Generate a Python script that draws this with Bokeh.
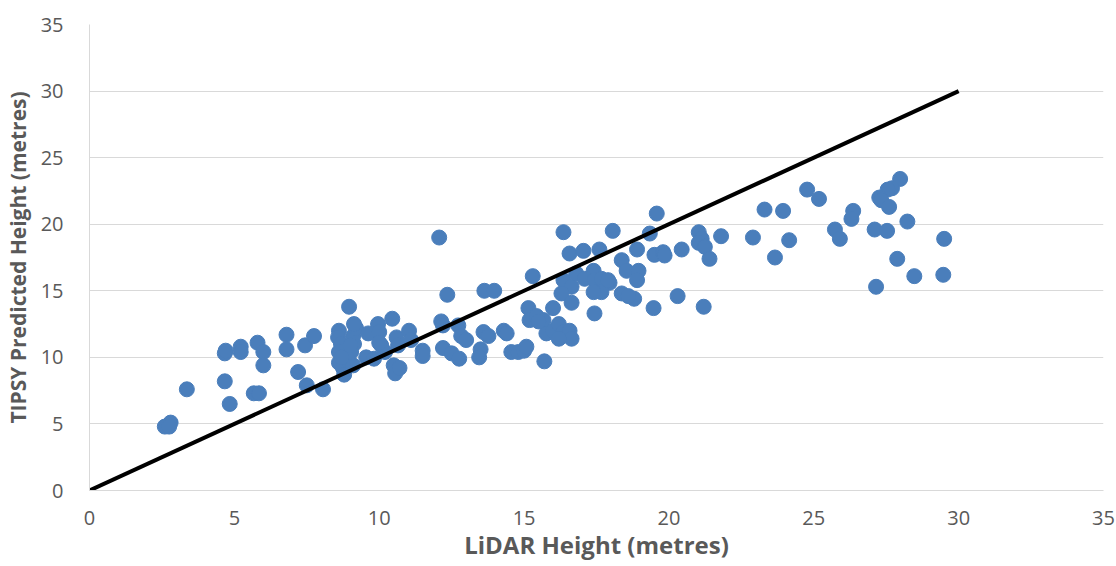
from bokeh.plotting import figure
from bokeh.models import Range1d, FixedTicker
from bokeh.embed import file_html
from bokeh.resources import INLINE

# LiDAR height (x) vs TIPSY predicted height (y), metres
lidar = [2.6, 2.8, 2.75, 3.36, 4.67, 4.7, 5.22, 5.22, 4.67, 4.84, 5.8, 6.0, 6.0, 5.67, 5.85,
         6.8, 6.8, 7.2, 7.5, 7.44, 7.75, 8.06, 8.96,
         8.61, 8.58, 8.68, 8.61, 8.61, 8.75, 8.79, 8.92, 9.1, 9.13, 9.1, 9.2, 9.03, 9.13, 8.7, 9.0,
         9.55, 9.82, 9.62, 9.96, 10.0, 10.07, 10.45, 10.6, 10.65, 10.5, 10.55, 10.7, 11.03, 11.1,
         11.5, 11.5, 10.2, 10.0,
         12.07, 12.35, 13.63, 13.97, 12.14, 12.2, 12.73, 12.83, 13.0, 12.2, 12.5, 12.76,
         13.6, 13.77, 14.3, 14.4, 13.5, 13.45, 14.56, 14.8, 15.0, 15.08,
         15.3, 15.15, 15.19, 15.43, 15.67, 15.77, 16.0, 16.2, 16.36, 16.57, 16.64, 16.2, 15.5,
         15.7, 16.0, 16.36, 16.57, 17.05, 17.6, 18.06,
         16.36, 16.64, 16.29, 16.64, 16.8, 17.09, 17.4, 17.43, 17.67, 17.95, 17.67, 17.4, 17.43,
         18.37, 18.54, 18.95, 17.9, 18.37, 18.8, 18.6, 18.9, 18.9,
         19.58, 19.34, 19.5, 19.8, 19.85, 20.44, 21.03, 21.13, 21.03, 21.24, 21.4, 21.8,
         22.9, 23.3, 23.94, 24.15, 23.66, 24.77, 25.18, 25.73, 25.9, 26.36, 26.3,
         19.47, 20.3, 21.2, 27.98, 27.7, 27.55, 27.26, 27.33, 27.6, 28.23, 27.1, 27.53,
         29.5, 27.88, 28.47, 29.47, 27.15]
tipsy = [4.8, 5.1, 4.8, 7.6, 10.3, 10.5, 10.8, 10.4, 8.2, 6.5, 11.1, 10.4, 9.4, 7.3, 7.3,
         11.7, 10.6, 8.9, 7.9, 10.9, 11.6, 7.6, 13.8,
         12.0, 11.5, 11.0, 10.4, 9.6, 9.2, 8.7, 9.8, 9.4, 11.0, 11.6, 12.2, 10.4, 12.5, 10.0, 10.9,
         10.0, 9.9, 11.8, 12.5, 11.9, 10.9, 12.9, 11.5, 10.9, 9.4, 8.8, 9.2, 12.0, 11.3,
         10.5, 10.1, 10.4, 11.1,
         19.0, 14.7, 15.0, 15.0, 12.7, 12.4, 12.4, 11.6, 11.3, 10.7, 10.3, 9.9,
         11.9, 11.6, 12.0, 11.8, 10.6, 10.0, 10.4, 10.4, 10.5, 10.8,
         16.1, 13.7, 12.8, 13.1, 12.8, 11.8, 12.0, 12.5, 11.9, 12.0, 11.4, 11.4, 12.7,
         9.7, 13.7, 19.4, 17.8, 18.0, 18.1, 19.5,
         15.8, 15.3, 14.8, 14.1, 16.3, 15.9, 16.5, 15.8, 15.9, 15.6, 14.9, 14.9, 13.3,
         17.3, 16.5, 16.5, 15.8, 14.8, 14.4, 14.6, 15.8, 18.1,
         20.8, 19.3, 17.7, 17.9, 17.65, 18.1, 19.4, 18.9, 18.6, 18.3, 17.4, 19.1,
         19.0, 21.1, 21.0, 18.8, 17.5, 22.6, 21.9, 19.6, 18.9, 21.0, 20.4,
         13.7, 14.6, 13.8, 23.4, 22.7, 22.6, 22.0, 21.8, 21.3, 20.2, 19.6, 19.5,
         18.9, 17.4, 16.1, 16.2, 15.3]
line_x = [0, 30]
line_y = [0, 30]
ticks = [0, 5, 10, 15, 20, 25, 30, 35]

p = figure(width=1116, height=566, output_backend="svg", toolbar_location=None,
           x_range=Range1d(0, 35), y_range=Range1d(0, 35),
           min_border_left=89, min_border_right=13, min_border_top=24, min_border_bottom=76)
p.outline_line_color = None
p.background_fill_color = "white"
p.border_fill_color = "white"

p.scatter(lidar, tipsy, size=15, color="#4a7ebb", line_color="#4a7ebb")
p.line(line_x, line_y, line_width=4, color="black")

for ax in (p.xaxis[0], p.yaxis[0]):
    ax.ticker = FixedTicker(ticks=ticks)
    ax.major_tick_line_color = None
    ax.minor_tick_line_color = None
    ax.axis_line_color = "#d9d9d9"
    ax.major_label_text_color = "#595959"
    ax.major_label_text_font = "Open Sans"
    ax.major_label_text_font_size = "20px"
    ax.axis_label_text_color = "#595959"
    ax.axis_label_text_font = "Open Sans"
    ax.axis_label_text_font_style = "bold"

p.xaxis.axis_label = "LiDAR Height (metres)"
p.yaxis.axis_label = "TIPSY Predicted Height (metres)"
p.xaxis.axis_label_text_font_size = "24px"
p.yaxis.axis_label_text_font_size = "21px"
p.xaxis.major_label_standoff = 14
p.yaxis.major_label_standoff = 20
p.xaxis.axis_label_standoff = 0
p.yaxis.axis_label_standoff = 6

p.xgrid.grid_line_color = None
p.ygrid.ticker = FixedTicker(ticks=ticks)
p.ygrid.grid_line_color = "#d9d9d9"
p.ygrid.grid_line_width = 1

open("out.html", "w").write(file_html(p, INLINE))
